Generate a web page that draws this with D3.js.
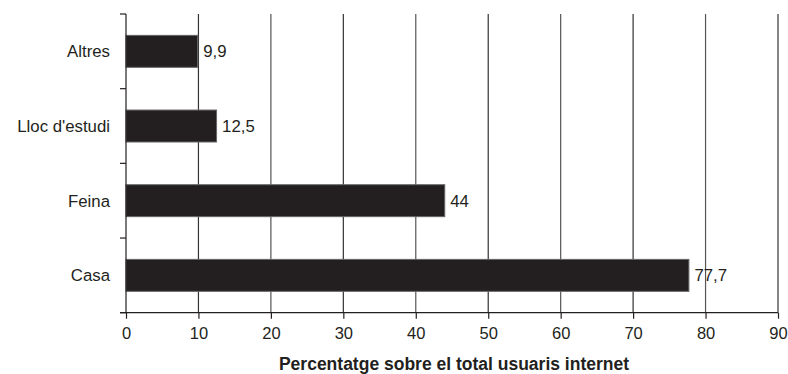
<!DOCTYPE html>
<html><head><meta charset="utf-8">
<script src="https://cdn.jsdelivr.net/npm/d3@7"></script>
<style>
body{margin:0;background:#fff;}
text{font-family:"Liberation Sans",Arial,sans-serif;fill:#231f20;}
</style></head>
<body><svg id="c" width="788" height="374"></svg>
<script>
const categories = ["Altres", "Lloc d'estudi", "Feina", "Casa"];
const values = [9.9, 12.5, 44, 77.7];
const valueLabels = ["9,9", "12,5", "44", "77,7"];
const xTicks = [0, 10, 20, 30, 40, 50, 60, 70, 80, 90];
const xTitle = "Percentatge sobre el total usuaris internet";

const svg = d3.select("#c");
const pL = 126, pR = 778, pT = 14, pB = 312.7;
const x = d3.scaleLinear().domain([0, 90]).range([pL, pR]);
const y = d3.scaleBand().domain(categories).range([pT, pB]).paddingInner(0.572).paddingOuter(0.286);
const band = d3.scaleBand().domain(categories).range([pT, pB]);

// gridlines
svg.append("g").selectAll("line").data(xTicks.slice(1)).join("line")
  .attr("x1", d => x(d)).attr("x2", d => x(d))
  .attr("y1", pT).attr("y2", pB)
  .attr("stroke", (d, i) => i % 2 ? "#555" : "#333").attr("stroke-width", 1.2);

// bars
svg.append("g").selectAll("rect").data(values).join("rect")
  .attr("x", x(0)).attr("y", (d, i) => y(categories[i]))
  .attr("width", d => x(d) - x(0)).attr("height", y.bandwidth())
  .attr("fill", "#231f20").attr("stroke", "#666").attr("stroke-width", 1);

// value labels
svg.append("g").selectAll("text").data(values).join("text")
  .attr("x", d => x(d) + 5.5).attr("y", (d, i) => y(categories[i]) + y.bandwidth() / 2)
  .attr("dy", "0.36em").style("font-size", "16.8px")
  .text((d, i) => valueLabels[i]);

// y axis
const ya = svg.append("g").attr("transform", `translate(${pL},0)`);
ya.append("line").attr("x1", 0).attr("x2", 0).attr("y1", pT).attr("y2", pB).attr("stroke", "#231f20").attr("stroke-width", 1.2);
const yTickPos = [pT, ...categories.map(c => band(c) + band.bandwidth())];
ya.selectAll(".t").data(yTickPos).join("line").attr("class", "t")
  .attr("x1", -6).attr("x2", 0).attr("y1", d => d).attr("y2", d => d)
  .attr("stroke", "#231f20").attr("stroke-width", 1.2);
ya.selectAll("text").data(categories).join("text")
  .attr("x", -16).attr("y", d => y(d) + y.bandwidth() / 2).attr("dy", "0.36em")
  .attr("text-anchor", "end").style("font-size", "16.8px")
  .text(d => d);

// x axis
const xa = svg.append("g").attr("transform", `translate(0,${pB})`)
  .call(d3.axisBottom(x).tickValues(xTicks).tickSize(6).tickPadding(9).tickFormat(d3.format("d")));
xa.select(".domain").attr("stroke", "#231f20").attr("stroke-width", 1.2).attr("d", `M${pL - 6},0H${pR}`);
xa.selectAll(".tick line").attr("stroke", "#231f20").attr("stroke-width", 1.2);
xa.selectAll(".tick text").style("font-size", "16.5px").style("font-family", "'Liberation Sans',Arial,sans-serif").attr("fill", "#231f20");

svg.append("text").attr("x", 454).attr("y", 370).attr("text-anchor", "middle")
  .style("font-size", "17.5px").style("font-weight", "bold").text(xTitle);
</script></body></html>
